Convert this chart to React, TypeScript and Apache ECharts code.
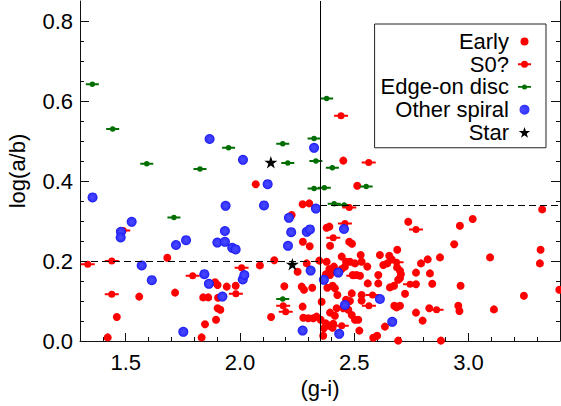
import React, { useEffect, useRef } from "react";
import * as echarts from "echarts";

// ---- data (g-i colour, log(a/b)) ----
const early: number[][] = [
  [1.421, 0.009], [1.461, 0.06], [1.559, 0.111], [1.682, 0.208], [1.716, 0.121], [1.832, 0.009],
  [1.847, 0.042], [1.895, 0.053], [1.902, 0.082], [1.914, 0.078], [1.839, 0.109], [1.861, 0.109],
  [1.904, 0.108], [1.891, 0.147], [1.902, 0.14], [1.942, 0.136], [1.981, 0.138], [2.087, 0.189],
  [2.15, 0.202], [2.069, 0.392], [2.136, 0.06], [2.194, 0.137], [2.252, 0.173], [2.275, 0.248],
  [2.305, 0.237], [2.292, 0.194], [2.27, 0.136], [2.316, 0.133], [2.28, 0.128], [2.274, 0.086],
  [2.277, 0.058], [2.299, 0.057], [2.321, 0.057], [2.274, 0.342], [2.303, 0.344], [2.226, 0.315],
  [2.335, 0.061], [2.391, 0.286], [2.379, 0.283], [2.394, 0.238], [2.478, 0.248], [2.49, 0.243],
  [2.445, 0.211], [2.528, 0.215], [2.347, 0.201], [2.379, 0.198], [2.464, 0.198], [2.481, 0.198],
  [2.503, 0.194], [2.532, 0.198], [2.612, 0.215], [2.653, 0.213], [2.664, 0.204], [2.688, 0.228],
  [2.627, 0.19], [2.644, 0.194], [2.557, 0.186], [2.736, 0.298], [2.605, 0.165], [2.7, 0.176],
  [2.704, 0.167], [2.7, 0.157], [2.674, 0.138], [2.656, 0.134], [2.722, 0.118], [2.77, 0.171],
  [2.792, 0.194], [2.821, 0.204], [2.875, 0.209], [2.831, 0.169], [2.841, 0.143], [2.77, 0.142],
  [2.937, 0.242], [2.962, 0.288], [3.018, 0.305], [3.094, 0.209], [2.965, 0.138], [2.955, 0.088],
  [2.96, 0.075], [2.828, 0.082], [2.77, 0.071], [2.799, 0.051], [2.879, 0.001], [2.692, 0.001],
  [2.583, 0.008], [2.6, 0.013], [2.634, 0.036], [2.522, 0.026], [3.111, 0.079], [3.242, 0.113],
  [3.397, 0.128], [3.315, 0.228], [3.312, 0.194], [3.322, 0.329], [2.532, 0.115], [2.532, 0.101],
  [2.489, 0.119], [2.559, 0.144], [2.605, 0.144], [2.675, 0.088], [2.685, 0.084], [2.7, 0.088],
  [2.464, 0.103], [2.481, 0.1], [2.489, 0.065], [2.503, 0.053], [2.517, 0.053], [2.394, 0.071],
  [2.423, 0.082], [2.415, 0.063], [2.391, 0.18], [2.405, 0.173], [2.394, 0.165], [2.376, 0.167],
  [2.411, 0.186], [2.445, 0.18], [2.459, 0.186], [2.493, 0.165], [2.51, 0.165], [2.525, 0.163],
  [2.382, 0.133], [2.405, 0.138], [2.415, 0.132], [2.426, 0.115], [2.357, 0.098], [2.353, 0.053],
  [2.376, 0.044], [2.391, 0.038], [2.367, 0.032], [2.364, 0.013], [2.405, 0.033], [2.474, 0.078],
  [2.452, 0.082], [2.687, 0.184], [2.692, 0.153], [2.452, 0.451], [2.513, 0.388], [2.408, 0.043],
];

const s0: number[][] = [
  [1.334, 0.192], [1.439, 0.2], [1.439, 0.117], [1.489, 0.276], [1.793, 0.163], [2.007, 0.183],
  [1.982, 0.118], [2.189, 0.088], [2.2, 0.073], [2.442, 0.563], [2.563, 0.446], [2.478, 0.334],
  [2.459, 0.294], [2.77, 0.279], [2.408, 0.258], [2.685, 0.197], [2.496, 0.163], [2.744, 0.142],
  [2.58, 0.115], [2.564, 0.088], [2.86, 0.078], [2.445, 0.038],
];

const edgeOn: number[][] = [
  [1.354, 0.642], [1.443, 0.53], [1.592, 0.443], [1.825, 0.43], [1.95, 0.483], [2.187, 0.493],
  [2.209, 0.445], [2.324, 0.506], [2.332, 0.45], [2.324, 0.381], [1.711, 0.309], [2.379, 0.606],
  [2.404, 0.433], [2.369, 0.383], [2.552, 0.386], [2.412, 0.343], [2.456, 0.34], [2.187, 0.105],
];

const otherSpiral: number[][] = [
  [1.355, 0.359], [1.867, 0.505], [2.013, 0.453], [2.121, 0.392], [2.324, 0.483], [1.526, 0.298],
  [1.479, 0.273], [1.478, 0.259], [1.72, 0.24], [1.764, 0.252], [1.57, 0.189], [1.614, 0.152],
  [1.844, 0.167], [1.864, 0.143], [1.923, 0.111], [1.901, 0.246], [1.934, 0.248], [1.937, 0.338],
  [1.934, 0.275], [1.966, 0.233], [1.981, 0.229], [2.012, 0.154], [2.019, 0.165], [2.105, 0.339],
  [2.214, 0.308], [2.224, 0.272], [2.21, 0.238], [2.292, 0.273], [2.306, 0.279], [2.332, 0.331],
  [2.309, 0.176], [2.274, 0.026], [1.752, 0.023], [2.455, 0.28], [2.367, 0.153], [2.43, 0.171],
  [2.612, 0.105], [2.459, 0.09], [2.666, 0.048], [2.434, 0.018],
];

const stars: number[][] = [
  [2.135, 0.447], [2.229, 0.192],
];

const seriesNames = ["Early", "S0?", "Edge-on disc", "Other spiral", "Star"];
const xTickLabels = [1.5, 2.0, 2.5, 3.0];
const xMinorTicks = [1.4, 1.6, 1.7, 1.8, 1.9, 2.1, 2.2, 2.3, 2.4, 2.6, 2.7, 2.8, 2.9, 3.1, 3.2, 3.3];
const yTickLabels = [0, 0.2, 0.4, 0.6, 0.8];
const yMinorTicks = [0.05, 0.1, 0.15, 0.25, 0.3, 0.35, 0.45, 0.5, 0.55, 0.65, 0.7, 0.75];
const xRange = [1.3, 3.4];
const yRange = [0, 0.85];
const colourCut = 2.35;
const lowCut = 0.2;
const highCut = 0.34;

// ---- symbols ----
const PAD = "M0,0 L0.01,0 Z M18,12 L17.99,12 Z ";
const s0Symbol = "path://M0,3 L14,3 L14,5 L0,5 Z M3.5,4 a3.5,3.5 0 1,1 7,0 a3.5,3.5 0 1,1 -7,0 Z";
const edgeSymbol = "path://M0,2 L13,2 L13,4 L0,4 Z M3.75,3 a2.75,2.75 0 1,1 5.5,0 a2.75,2.75 0 1,1 -5.5,0 Z";
const starSymbol =
  "path://M50,0 L61.2,34.6 L97.6,34.5 L68.1,55.9 L79.4,90.5 L50,69 L20.6,90.5 L31.9,55.9 L2.4,34.5 L38.8,34.6 Z";

const legendIcons = [
  "path://" + PAD + "M6.5,6 a4,4 0 1,1 8,0 a4,4 0 1,1 -8,0 Z",
  "path://" + PAD + "M4,5 L17,5 L17,7 L4,7 Z M7,6 a3.5,3.5 0 1,1 7,0 a3.5,3.5 0 1,1 -7,0 Z",
  "path://" + PAD + "M4,5.1 L17,5.1 L17,6.9 L4,6.9 Z M8,6 a2.5,2.5 0 1,1 5,0 a2.5,2.5 0 1,1 -5,0 Z",
  "path://" + PAD + "M5.5,6 a5,5 0 1,1 10,0 a5,5 0 1,1 -10,0 Z",
  "path://" + PAD +
    "M10.5,0.6 L11.84,4.72 L16.21,4.71 L12.67,7.28 L14.03,11.43 L10.5,8.85 L6.97,11.43 L8.33,7.28 L4.79,4.71 L9.16,4.72 Z",
];

const RED = "#ff0000";
const GREEN = "#006e00";
const BLUE = {
  type: "radial", x: 0.5, y: 0.5, r: 0.5,
  colorStops: [
    { offset: 0, color: "#4a4aff" },
    { offset: 0.7, color: "#3535ff" },
    { offset: 1, color: "#1414f0" },
  ],
};

const FONT = "Liberation Sans, Arial, sans-serif";
const AXIS_COLOR = "#111";

function buildOption() {
  const fmt = (v: number) => Number(v).toFixed(1);
  const baseX = {
    type: "value", min: xRange[0], max: xRange[1], position: "bottom",
    splitLine: { show: false },
  };
  const baseY = {
    type: "value", min: yRange[0], max: yRange[1],
    splitLine: { show: false },
  };
  return {
    animation: false,
    textStyle: { fontFamily: FONT },
    grid: { left: 80, right: 1, top: 1, bottom: 65, containLabel: false, outerBoundsMode: "none" },
    legend: {
      orient: "vertical",
      right: 15,
      top: 24,
      align: "right",
      itemWidth: 18,
      itemHeight: 12,
      itemGap: 0,
      padding: [6, 14, 4, 6],
      borderColor: "#222",
      borderWidth: 1,
      selectedMode: false,
      textStyle: { fontSize: 22, color: "#000", fontFamily: FONT, lineHeight: 22.75 },
      data: seriesNames.map((n, i) => ({ name: n, icon: legendIcons[i] })),
    },
    xAxis: [
      {
        ...baseX,
        name: "(g-i)",
        nameLocation: "middle",
        nameGap: 35,
        nameTextStyle: { fontSize: 22, color: "#000", fontFamily: FONT, lineHeight: 22 },
        axisLine: { show: true, lineStyle: { color: AXIS_COLOR, width: 1 } },
        axisTick: { show: true, inside: true, length: 8, customValues: xTickLabels, lineStyle: { color: AXIS_COLOR } },
        axisLabel: {
          show: true, margin: 10, fontSize: 22, color: "#000", fontFamily: FONT, lineHeight: 22,
          customValues: xTickLabels, formatter: fmt,
        },
      },
      {
        ...baseX,
        axisLine: { show: false },
        axisTick: { show: true, inside: true, length: 4, customValues: xMinorTicks, lineStyle: { color: AXIS_COLOR } },
        axisLabel: { show: false },
      },
    ],
    yAxis: [
      {
        ...baseY,
        position: "left",
        name: "log(a/b)",
        nameLocation: "middle",
        nameGap: 52,
        nameTextStyle: { fontSize: 22, color: "#000", fontFamily: FONT, lineHeight: 22 },
        axisLine: { show: true, lineStyle: { color: AXIS_COLOR, width: 1 } },
        axisTick: { show: true, inside: true, length: 9, customValues: yTickLabels, lineStyle: { color: AXIS_COLOR } },
        axisLabel: {
          show: true, margin: 7, fontSize: 22, color: "#000", fontFamily: FONT,
          customValues: yTickLabels, formatter: fmt,
        },
      },
      {
        ...baseY,
        position: "left",
        axisLine: { show: false },
        axisTick: { show: true, inside: true, length: 4, customValues: yMinorTicks, lineStyle: { color: AXIS_COLOR } },
        axisLabel: { show: false },
      },
      {
        ...baseY,
        position: "right",
        axisLine: { show: true, lineStyle: { color: AXIS_COLOR, width: 1 } },
        axisTick: { show: true, inside: true, length: 9, customValues: yTickLabels, lineStyle: { color: AXIS_COLOR } },
        axisLabel: { show: false },
      },
      {
        ...baseY,
        position: "right",
        axisLine: { show: false },
        axisTick: { show: true, inside: true, length: 4, customValues: yMinorTicks, lineStyle: { color: AXIS_COLOR } },
        axisLabel: { show: false },
      },
    ],
    series: [
      {
        name: "Early", type: "scatter", xAxisIndex: 0, yAxisIndex: 0,
        data: early, symbol: "circle", symbolSize: 8,
        itemStyle: { color: RED, opacity: 1 },
        markLine: {
          silent: true, animation: false, symbol: ["none", "none"],
          label: { show: false },
          lineStyle: { color: "#000", width: 1, type: "solid" },
          data: [
            [{ coord: [colourCut, yRange[0]] }, { coord: [colourCut, yRange[1]] }],
            [{ coord: [xRange[0], lowCut], lineStyle: { type: [7, 4], color: "#000", width: 1 } }, { coord: [colourCut, lowCut] }],
            [{ coord: [colourCut, highCut], lineStyle: { type: [7, 4], color: "#000", width: 1 } }, { coord: [xRange[1], highCut] }],
          ],
        },
      },
      {
        name: "Edge-on disc", type: "scatter", xAxisIndex: 0, yAxisIndex: 0,
        data: edgeOn, symbol: edgeSymbol, symbolSize: [13, 5.5],
        itemStyle: { color: GREEN, opacity: 1 },
      },
      {
        name: "S0?", type: "scatter", xAxisIndex: 0, yAxisIndex: 0,
        data: s0, symbol: s0Symbol, symbolSize: [14, 7],
        itemStyle: { color: RED, opacity: 1 },
      },
      {
        name: "Other spiral", type: "scatter", xAxisIndex: 0, yAxisIndex: 0,
        data: otherSpiral, symbol: "circle", symbolSize: 10,
        itemStyle: { color: BLUE, opacity: 1 },
      },
      {
        name: "Star", type: "scatter", xAxisIndex: 0, yAxisIndex: 0,
        data: stars, symbol: starSymbol, symbolSize: [13, 12.4],
        itemStyle: { color: "#000", opacity: 1 },
      },
    ],
  };
}

export default function App() {
  const ref = useRef<HTMLDivElement>(null);
  useEffect(() => {
    if (!ref.current) return;
    const chart = echarts.init(ref.current, null, { renderer: "svg" });
    chart.setOption(buildOption() as any);
    return () => chart.dispose();
  }, []);
  return (
    <div
      ref={ref}
      style={{ position: "fixed", left: 0, top: 0, width: 561, height: 406, background: "#fff" }}
    />
  );
}
